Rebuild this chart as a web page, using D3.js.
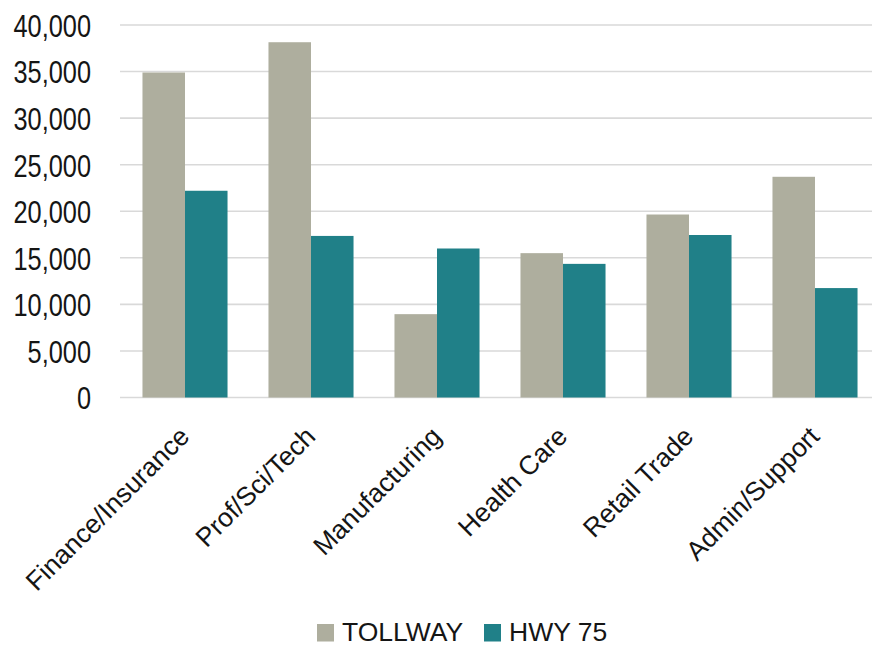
<!DOCTYPE html>
<html>
<head>
<meta charset="utf-8">
<script src="https://cdn.jsdelivr.net/npm/d3@7"></script>
<style>
  html, body { margin: 0; padding: 0; background: #ffffff; }
  svg { display: block; }
</style>
</head>
<body>
<svg id="chart" width="872" height="646"></svg>
<script>
const categories = ["Finance/Insurance", "Prof/Sci/Tech", "Manufacturing", "Health Care", "Retail Trade", "Admin/Support"];
const seriesNames = ["TOLLWAY", "HWY 75"];
const tollway = [34900, 38150, 8950, 15500, 19650, 23700];
const hwy75 = [22200, 17350, 16000, 14350, 17450, 11750];
const yTicks = [0, 5000, 10000, 15000, 20000, 25000, 30000, 35000, 40000];
const colors = ["#aeae9e", "#208088"];

const svg = d3.select("#chart");
const FONT = "'Liberation Sans', Arial, sans-serif";
const x = d3.scaleBand().domain(categories).range([122, 878]).paddingInner(0.325).paddingOuter(0.1625);
const x1 = d3.scaleBand().domain(seriesNames).range([0, x.bandwidth()]);
const y = d3.scaleLinear().domain([0, 40000]).range([397.5, 25]);

// gridlines
svg.append("g").selectAll("line").data(yTicks).join("line")
  .attr("x1", 120).attr("x2", 872)
  .attr("y1", d => y(d)).attr("y2", d => y(d))
  .attr("stroke", "#d9d9d9").attr("stroke-width", 1.6);

// y tick labels (narrow style: horizontally condensed)
const yAxis = d3.axisLeft(y).tickValues(yTicks).tickFormat(d3.format(",")).tickSize(0).tickPadding(0);
const ya = svg.append("g").attr("transform", "translate(91,0)").call(yAxis);
ya.select(".domain").remove();
ya.selectAll("text")
  .attr("font-family", FONT)
  .attr("font-size", 31.5).attr("fill", "#151515").attr("dy", "0.36em");
const refNode = ya.selectAll("text").filter(d => d === 40000).node();
const k = 77.5 / refNode.getComputedTextLength();
ya.selectAll("text").attr("transform", `scale(${k},1)`);

// bars
const data = categories.map((c, i) => ({ c, vals: [tollway[i], hwy75[i]] }));
const groups = svg.append("g").selectAll("g").data(data).join("g")
  .attr("transform", d => `translate(${x(d.c)},0)`);
groups.selectAll("rect").data(d => d.vals.map((v, j) => ({ v, s: seriesNames[j], j })))
  .join("rect")
  .attr("x", d => x1(d.s))
  .attr("width", x1.bandwidth())
  .attr("y", d => y(d.v))
  .attr("height", d => y(0) - y(d.v))
  .attr("fill", d => colors[d.j]);

// x labels
svg.append("g").selectAll("text").data(categories).join("text")
  .attr("transform", d => `translate(${x(d) + x.bandwidth() / 2 + 6},438) rotate(-45)`)
  .attr("text-anchor", "end")
  .attr("font-family", FONT)
  .attr("font-size", 26.5).attr("fill", "#151515")
  .text(d => d);

// legend
const legend = svg.append("g");
const lx = [317, 484];
seriesNames.forEach((s, i) => {
  legend.append("rect").attr("x", lx[i]).attr("y", 624).attr("width", 17).attr("height", 17.5).attr("fill", colors[i]);
  legend.append("text").attr("x", lx[i] + 25).attr("y", 641)
    .attr("font-family", FONT)
    .attr("font-size", 26.5).attr("fill", "#151515").text(s);
});
</script>
</body>
</html>
